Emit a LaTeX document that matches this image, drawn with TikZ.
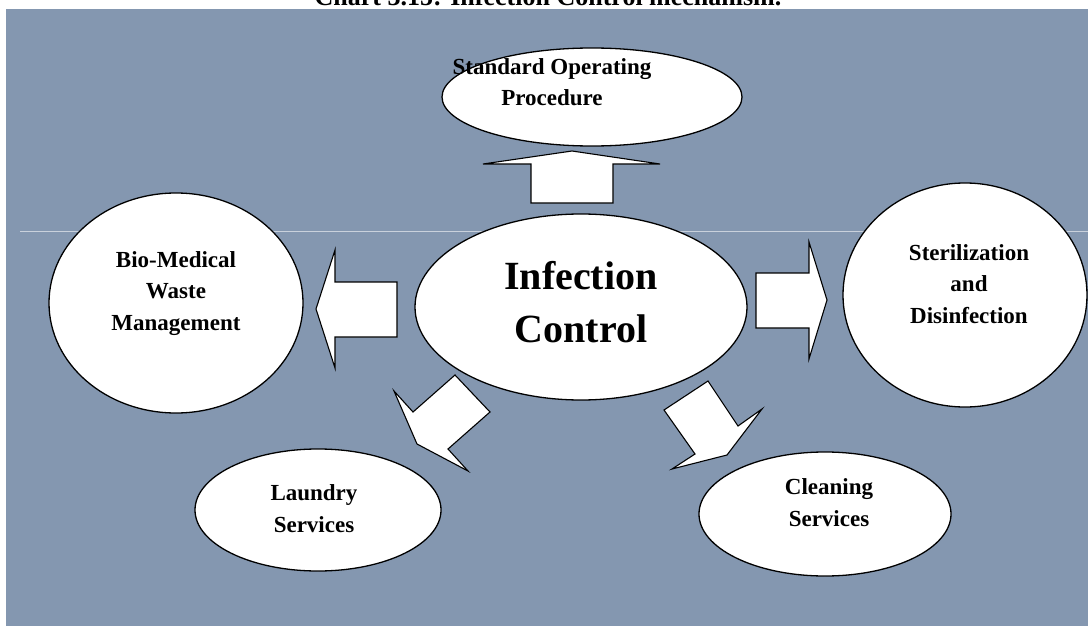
\documentclass[tikz,border=0pt]{standalone}
\usepackage{fontspec}
\setmainfont{Liberation Serif}
\usetikzlibrary{shapes.geometric}
\definecolor{bgblue}{HTML}{8497B0}
\definecolor{rule}{HTML}{C9D1DC}
\begin{document}
\begin{tikzpicture}[x=1pt,y=-1pt,
  bubble/.style={ellipse,draw=black,line width=1.3pt,fill=white,inner sep=0pt},
  blockarrow/.style={draw=black,line width=1.1pt,fill=white,line join=miter},
  lbl/.style={align=center,anchor=base,inner sep=0pt},
  small/.style={font=\fontsize{23}{31.5}\selectfont\bfseries},
  big/.style={font=\fontsize{40}{53}\selectfont\bfseries}]
\useasboundingbox (0,0) rectangle (1088,626);
\clip (0,0) rectangle (1088,626);
\fill[white] (0,0) rectangle (1088,626);
\fill[bgblue] (6,9) rectangle (1088,626);
\node[anchor=base,inner sep=0pt,font=\fontsize{26}{26}\selectfont\bfseries] (title) at (548,6) {Chart 3.15: Infection Control mechanism.};
\coordinate (ruleL) at (20,231);
\coordinate (ruleR) at (1088,231);
\draw[rule,line width=0.8pt] (ruleL) -- (ruleR);
% ellipses
\node[bubble,minimum width=300pt,minimum height=98pt] (sop) at (592,97) {};
\node[bubble,minimum width=332pt,minimum height=186pt] (ic) at (581,307) {};
\node[bubble,minimum width=254pt,minimum height=220pt] (bm) at (176,303) {};
\node[bubble,minimum width=244pt,minimum height=224pt] (sd) at (965,295) {};
\node[bubble,minimum width=246pt,minimum height=122pt] (ls) at (318,510) {};
\node[bubble,minimum width=252pt,minimum height=124pt] (cs) at (825,514) {};
% labels (anchor = baseline of last line)
\node[lbl,small] (sopT) at (552,106) {Standard Operating\\Procedure};
\node[lbl,big] (icT) at (581,342) {Infection\\Control};
\node[lbl,small] (bmT) at (176,330) {Bio-Medical\\Waste\\Management};
\node[lbl,small] (sdT) at (969,323) {Sterilization\\and\\Disinfection};
\node[lbl,small] (lsT) at (314,532) {Laundry\\Services};
\node[lbl,small] (csT) at (829,526) {Cleaning\\Services};
% block arrows
\draw[blockarrow] (572,151) -- (660,164) -- (613,164) -- (613,203) -- (531,203) -- (531,164) -- (483,164) -- cycle;
\draw[blockarrow] (316,309) -- (335,250) -- (335,282) -- (397,282) -- (397,337) -- (335,337) -- (335,368) -- cycle;
\draw[blockarrow] (827,300) -- (809,242) -- (809,273) -- (756,273) -- (756,328) -- (809,328) -- (809,359) -- cycle;
\draw[blockarrow] (417,444) -- (394,391) -- (413,412) -- (455,375) -- (490,412) -- (448,449) -- (468,471) -- cycle;
\draw[blockarrow] (727,455) -- (762,409) -- (738,426) -- (708,381) -- (664,410) -- (695,454) -- (672,469) -- cycle;
\end{tikzpicture}
\end{document}
